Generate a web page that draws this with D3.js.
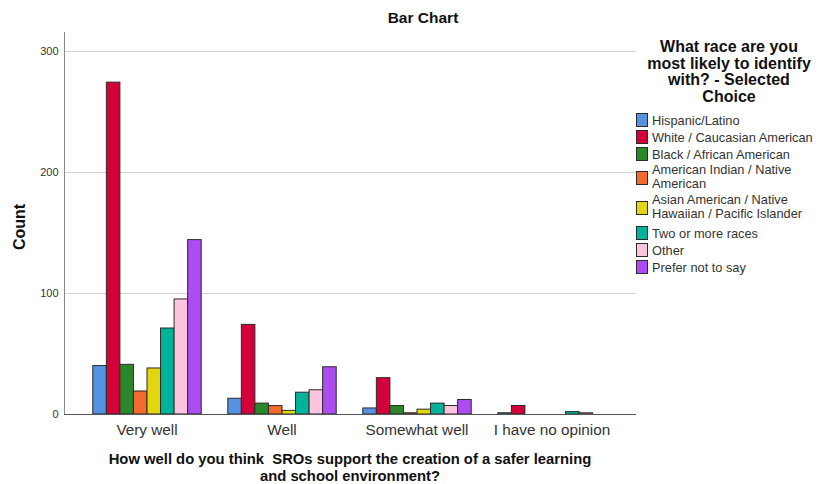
<!DOCTYPE html>
<html>
<head>
<meta charset="utf-8">
<script src="https://cdn.jsdelivr.net/npm/d3@7"></script>
<style>
  body { margin: 0; background: #fff; }
  svg { display: block; font-family: "Liberation Sans", Arial, sans-serif; }
</style>
</head>
<body>
<svg id="chart" width="821" height="484"></svg>
<script>
const categories = ["Very well", "Well", "Somewhat well", "I have no opinion"];
const seriesNames = [
  "Hispanic/Latino",
  "White / Caucasian American",
  "Black / African American",
  "American Indian / Native American",
  "Asian American / Native Hawaiian / Pacific Islander",
  "Two or more races",
  "Other",
  "Prefer not to say"
];
const legendLabels = [
  ["Hispanic/Latino"],
  ["White / Caucasian American"],
  ["Black / African American"],
  ["American Indian / Native", "American"],
  ["Asian American / Native", "Hawaiian / Pacific Islander"],
  ["Two or more races"],
  ["Other"],
  ["Prefer not to say"]
];
const seriesColors = ["#5592e0", "#d4003a", "#2a872a", "#f26a2c", "#e2d60e", "#00b39a", "#fdc4df", "#ad4cf0"];
// values[series][category]
const hispanic = [40, 13, 5, 1];
const white = [274, 74, 30, 7];
const black = [41, 9, 7, 0];
const amIndian = [19, 7, 1, 0];
const asian = [38, 3, 4, 0];
const twoOrMore = [71, 18, 9, 2];
const other = [95, 20, 7, 1];
const preferNot = [144, 39, 12, 0];
const values = [hispanic, white, black, amIndian, asian, twoOrMore, other, preferNot];
const yTicks = [0, 100, 200, 300];

const svg = d3.select("#chart");

const plot = { left: 64, right: 636, top: 32, bottom: 414 };

const y = d3.scaleLinear().domain([0, 315.4]).range([plot.bottom, plot.top]);
const x0 = d3.scaleBand().domain(categories).range([79.5, 619.5]).padding(0);
const groupW = x0.bandwidth() * 0.803;
const x1 = d3.scaleBand().domain(d3.range(seriesNames.length))
  .range([(x0.bandwidth() - groupW) / 2, (x0.bandwidth() + groupW) / 2]).padding(0);

// gridlines
svg.append("g").selectAll("line").data(yTicks.filter(d => d > 0)).join("line")
  .attr("x1", plot.left).attr("x2", plot.right)
  .attr("y1", d => Math.round(y(d)) + 0.5).attr("y2", d => Math.round(y(d)) + 0.5)
  .attr("stroke", "#d3d3d3").attr("stroke-width", 1);

// bars
const data = [];
categories.forEach((c, ci) => {
  seriesNames.forEach((s, si) => {
    data.push({ cat: c, si, v: values[si][ci] });
  });
});
svg.append("g").selectAll("rect").data(data.filter(d => d.v > 0)).join("rect")
  .attr("x", d => x0(d.cat) + x1(d.si))
  .attr("width", x1.bandwidth())
  .attr("y", d => y(d.v))
  .attr("height", d => y(0) - y(d.v))
  .attr("fill", d => seriesColors[d.si])
  .attr("stroke", "#2b2b2b").attr("stroke-width", 1);

// axes
const yAxis = d3.axisLeft(y).tickValues(yTicks).tickSize(0).tickPadding(6);
const gy = svg.append("g").attr("transform", `translate(${plot.left + 0.5},0)`).call(yAxis);
gy.select(".domain").attr("stroke", "#8a8a8a").attr("d", `M0,${plot.top}V${plot.bottom}`);
gy.selectAll("text").attr("font-size", 11).attr("fill", "#333").attr("font-family", "Liberation Sans, Arial, sans-serif");

const xAxis = d3.axisBottom(x0).tickSize(0).tickPadding(10);
const gx = svg.append("g").attr("transform", `translate(0,${plot.bottom + 0.5})`).call(xAxis);
gx.select(".domain").attr("stroke", "#555").attr("d", `M${plot.left},0H${plot.right}`);
gx.selectAll("text").attr("font-size", 15.3).attr("fill", "#333").attr("font-family", "Liberation Sans, Arial, sans-serif");

// title
svg.append("text").attr("x", 423).attr("y", 23).attr("text-anchor", "middle")
  .attr("font-size", 15.5).attr("font-weight", "bold").attr("fill", "#111").text("Bar Chart");

// y label
svg.append("text").attr("transform", "translate(25,227) rotate(-90)").attr("text-anchor", "middle")
  .attr("font-size", 16).attr("font-weight", "bold").attr("fill", "#111").text("Count");

// x label
const xl = svg.append("text").attr("text-anchor", "middle").attr("font-size", 14.8)
  .attr("font-weight", "bold").attr("fill", "#111").style("white-space", "pre");
xl.append("tspan").attr("x", 350).attr("y", 464).text("How well do you think  SROs support the creation of a safer learning");
xl.append("tspan").attr("x", 350).attr("y", 481).text("and school environment?");

// legend title
const lt = svg.append("text").attr("text-anchor", "middle").attr("font-size", 16)
  .attr("font-weight", "bold").attr("fill", "#111");
["What race are you", "most likely to identify", "with? - Selected", "Choice"].forEach((t, i) => {
  lt.append("tspan").attr("x", 729).attr("y", 52 + i * 16.5).text(t);
});

// legend items
const itemTops = [113, 130, 147, 171, 201, 226, 243, 260];
const lg = svg.append("g");
legendLabels.forEach((lines, i) => {
  const top = itemTops[i];
  const h = 13;
  lg.append("rect").attr("x", 636.5).attr("y", top + 0.5).attr("width", 11).attr("height", h)
    .attr("fill", seriesColors[i]).attr("stroke", "#2b2b2b").attr("stroke-width", 1);
  const t = lg.append("text").attr("font-size", 12.8).attr("fill", "#333");
  if (lines.length === 1) {
    t.append("tspan").attr("x", 652).attr("y", top + 11.5).text(lines[0]);
  } else {
    t.append("tspan").attr("x", 652).attr("y", top + 3).text(lines[0]);
    t.append("tspan").attr("x", 652).attr("y", top + 16.5).text(lines[1]);
  }
});
</script>
</body>
</html>
